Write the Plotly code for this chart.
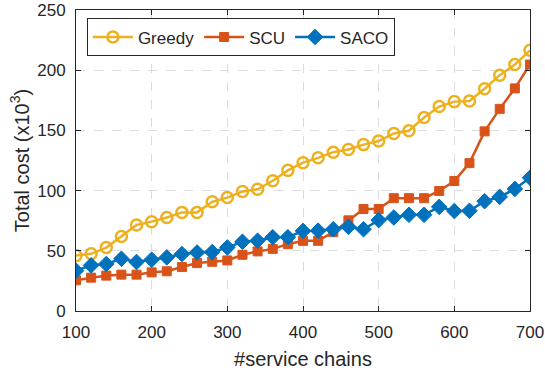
import plotly.graph_objects as go

x_vals = list(range(100, 701, 20))
greedy = [46, 47.5, 52.7, 61.8, 71.4, 74.2, 77.7, 81.9, 81.9, 90.7, 94.2, 99.2, 101.1, 108.2, 116.8,
          123.2, 127.2, 131.9, 134.1, 138.2, 141.2, 147.5, 149.7, 160.7, 169.8, 173.9, 174.5, 184.6,
          195.9, 204.7, 216.5]
scu = [25.5, 27.7, 29.4, 30.2, 30.2, 32.1, 33, 36.5, 39.8, 40.9, 42, 46.7, 49.5, 51.6, 55.5,
       58.3, 58.3, 65.5, 75.3, 84.7, 84.7, 93.7, 93.7, 93.7, 99.7, 108, 122.8, 149.2, 167.9, 184.9, 204.7]
saco = [33.5, 37.9, 39, 43.4, 40.7, 42.6, 44.5, 47.3, 48.6, 48.9, 52.8, 57.5, 58.4, 61.3, 61.3,
        66.5, 66.7, 67.9, 69.9, 67.9, 75.5, 77.7, 79.9, 79.9, 86.5, 83, 83.2, 91.2, 94.8, 101.4, 110.7]

x_ticks = [100, 200, 300, 400, 500, 600, 700]
y_ticks = [0, 50, 100, 150, 200, 250]

fig = go.Figure()
fig.add_trace(go.Scatter(x=x_vals, y=greedy, name="Greedy", mode="lines+markers",
                         line=dict(color="#EDB120", width=2.5),
                         marker=dict(symbol="circle-open", size=11, color="#EDB120",
                                     line=dict(width=2.5, color="#EDB120"))))
fig.add_trace(go.Scatter(x=x_vals, y=scu, name="SCU", mode="lines+markers",
                         line=dict(color="#D95319", width=2.5),
                         marker=dict(symbol="square", size=9, color="#D95319",
                                     line=dict(width=1, color="#D95319"))))
fig.add_trace(go.Scatter(x=x_vals, y=saco, name="SACO", mode="lines+markers",
                         line=dict(color="#0072BD", width=2.5),
                         marker=dict(symbol="diamond", size=12, color="#0072BD",
                                     line=dict(width=1, color="#0072BD"))))

axis_common = dict(showline=True, linecolor="#262626", linewidth=1, mirror="ticks",
                   ticks="inside", ticklen=5, tickcolor="#262626",
                   showgrid=True, gridcolor="#dcdcdc", griddash="dash", gridwidth=1,
                   zeroline=False, automargin=False, ticklabelstandoff=6,
                   ticklabeloverflow="allow",
                   tickfont=dict(size=17, color="#262626"))

fig.update_layout(
    width=545, height=375,
    margin=dict(l=76, r=15, t=10, b=64),
    paper_bgcolor="white", plot_bgcolor="white",
    font=dict(family="Liberation Sans, Arial, sans-serif", color="#262626"),
    xaxis=dict(range=[100, 700], tickvals=x_ticks,
               title=dict(text="#service chains", font=dict(size=20), standoff=10),
               **axis_common),
    yaxis=dict(range=[0, 250], tickvals=y_ticks,
               title=dict(text="Total cost (x10<sup>3</sup>)", font=dict(size=20), standoff=2),
               **axis_common),
    legend=dict(orientation="h", x=0.024, y=0.972, xanchor="left", yanchor="top",
                bordercolor="#262626", borderwidth=1, bgcolor="white",
                font=dict(size=17, color="#262626"), itemwidth=40,
                tracegroupgap=0),
    showlegend=True,
)

fig.write_html("out.html")
